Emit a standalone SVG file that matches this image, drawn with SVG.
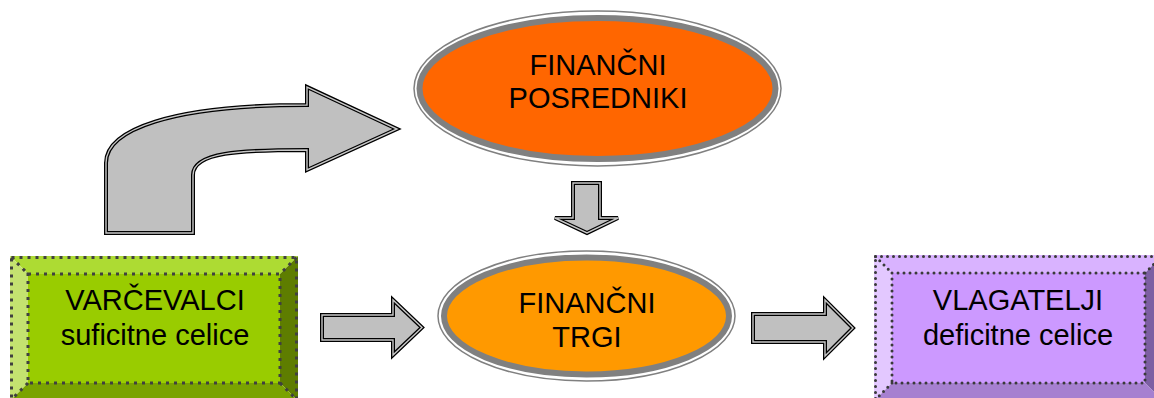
<svg xmlns="http://www.w3.org/2000/svg" width="1154" height="398" viewBox="0 0 1154 398">
<style>
.t{font-family:"Liberation Sans",Arial,sans-serif;font-size:29px;fill:#000;text-anchor:middle}
.arr{fill:#c0c0c0;stroke:#000;stroke-width:4;stroke-linejoin:miter}
.arrIn{fill:none;stroke:#c8c8c8;stroke-width:1.4;stroke-linejoin:miter}
.gdash{fill:none;stroke:#404040;stroke-width:3;stroke-dasharray:3 5}
.pdot{fill:none;stroke:#3a3a3a;stroke-width:3;stroke-dasharray:0 6;stroke-linecap:round}
.ering{fill:#fff;stroke:#808080;stroke-width:1.5}
.eband{stroke:#808080;stroke-width:6}
</style>
<rect width="1154" height="398" fill="#fff"/>
<g id="connectors">
  <path class="arr" d="M106,233 L106,163 C106,130 170,105 307,105 L307,87 L397,129 L307,170 L307,150 C240,150 193,152 193,175 L193,233 Z"/>
  <path class="arrIn" d="M106,233 L106,163 C106,130 170,105 307,105 L307,87 L397,129 L307,170 L307,150 C240,150 193,152 193,175 L193,233 Z"/>
  <path class="arr" d="M573,183 L600,183 L600,218 L618,218 L587,233 L555,218 L573,218 Z"/>
  <path class="arrIn" d="M573,183 L600,183 L600,218 L618,218 L587,233 L555,218 L573,218 Z"/>
  <path class="arr" d="M322,315 L393,315 L393,300 L422,327.5 L393,355 L393,340 L322,340 Z"/>
  <path class="arrIn" d="M322,315 L393,315 L393,300 L422,327.5 L393,355 L393,340 L322,340 Z"/>
  <path class="arr" d="M753,314 L825,314 L825,300 L853,328 L825,356 L825,342 L753,342 Z"/>
  <path class="arrIn" d="M753,314 L825,314 L825,300 L853,328 L825,356 L825,342 L753,342 Z"/>
</g>
<g id="posredniki">
  <ellipse class="ering" cx="597.5" cy="88.5" rx="183.5" ry="77.5"/>
  <ellipse class="eband" fill="#ff6600" cx="597.5" cy="88.5" rx="178" ry="70.5"/>
  <text class="t" x="598" y="75">FINANČNI</text>
  <text class="t" x="598" y="108">POSREDNIKI</text>
</g>
<g id="trgi">
  <ellipse class="ering" cx="586.5" cy="316" rx="148.5" ry="65"/>
  <ellipse class="eband" fill="#ff9900" cx="586.5" cy="316" rx="142.5" ry="58.5"/>
  <text class="t" x="587" y="313">FINANČNI</text>
  <text class="t" x="587" y="347">TRGI</text>
</g>
<g id="varcevalci">
  <polygon fill="#addb33" points="10,256 298,256 280,274 28,274"/>
  <polygon fill="#c4e270" points="10,256 28,274 28,383 10,401"/>
  <polygon fill="#5e7d00" points="298,256 298,401 280,383 280,274"/>
  <polygon fill="#7aa300" points="10,401 28,383 280,383 298,401"/>
  <rect fill="#99cc00" x="28" y="274" width="252" height="109"/>
  <rect class="gdash" x="11.5" y="257.5" width="285" height="145"/>
  <rect class="gdash" x="28" y="274" width="252" height="109"/>
  <path class="gdash" d="M11.5,257.5 L28,274 M296.5,257.5 L280,274 M280,383 L296.5,399.5 M28,383 L11.5,399.5"/>
  <text class="t" x="155" y="310">VARČEVALCI</text>
  <text class="t" x="155" y="345">suficitne celice</text>
</g>
<g id="vlagatelji">
  <polygon fill="#d9b3ff" points="874,255 1163,255 1145,273 892,273"/>
  <polygon fill="#e3c8ff" points="874,255 892,273 892,383 874,401"/>
  <polygon fill="#7d5fa3" points="1163,255 1163,401 1145,383 1145,273"/>
  <polygon fill="#a680d0" points="874,401 892,383 1145,383 1163,401"/>
  <rect fill="#cc99ff" x="892" y="273" width="253" height="110"/>
  <rect class="pdot" x="875.5" y="256.5" width="286" height="145"/>
  <rect class="pdot" x="892" y="273" width="253" height="110"/>
  <path class="pdot" d="M875.5,256.5 L892,273 M1145,273 L1161.5,256.5 M892,383 L875.5,399.5"/>
  <text class="t" x="1018" y="310">VLAGATELJI</text>
  <text class="t" x="1018" y="345">deficitne celice</text>
</g>
</svg>
